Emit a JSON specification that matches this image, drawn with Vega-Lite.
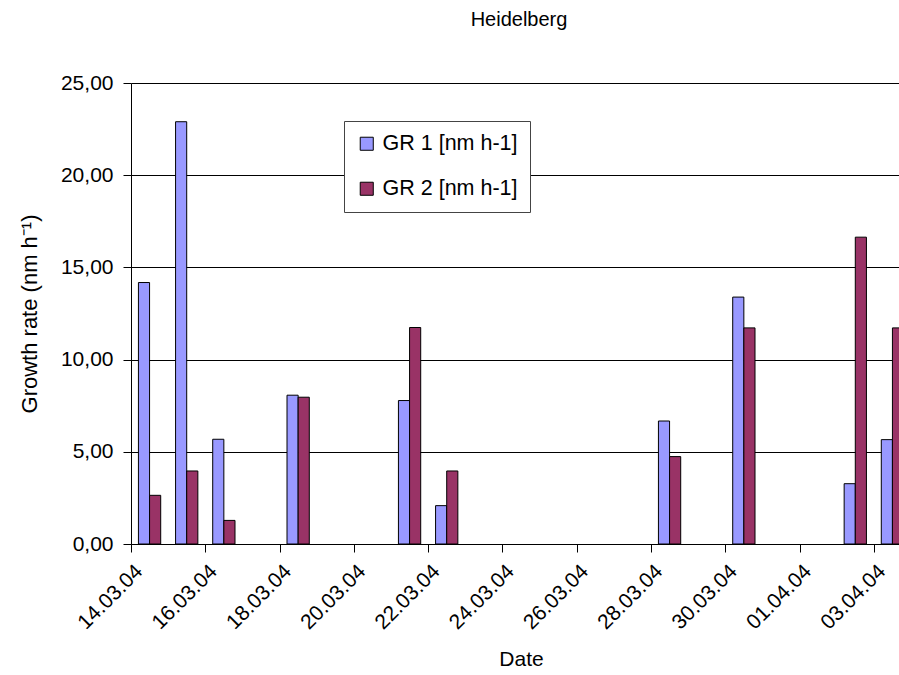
{
  "$schema": "https://vega.github.io/schema/vega-lite/v6.json",
  "autosize": {"type": "none"},
  "padding": {"left": 131, "top": 83, "right": 0, "bottom": 131},
  "width": 780,
  "height": 461,
  "background": "white",
  "title": {"text": "Heidelberg", "anchor": "middle", "frame": "group", "fontSize": 20, "font": "Liberation Sans", "fontWeight": "normal", "color": "black", "baseline": "alphabetic", "offset": 26, "dx": -2},
  "config": {
    "view": {"stroke": null},
    "font": "Liberation Sans",
    "axis": {"labelFont": "Liberation Sans", "titleFont": "Liberation Sans", "labelColor": "black", "titleColor": "black", "titleFontWeight": "normal", "labelFontSize": 21, "titleFontSize": 21, "domainColor": "black", "tickColor": "black", "tickSize": 8}
  },
  "data": {"values": [
    {"date": "14.03.04", "series": "GR 1 [nm h-1]", "rate": 14.18},
    {"date": "14.03.04", "series": "GR 2 [nm h-1]", "rate": 2.64},
    {"date": "15.03.04", "series": "GR 1 [nm h-1]", "rate": 22.9},
    {"date": "15.03.04", "series": "GR 2 [nm h-1]", "rate": 3.96},
    {"date": "16.03.04", "series": "GR 1 [nm h-1]", "rate": 5.68},
    {"date": "16.03.04", "series": "GR 2 [nm h-1]", "rate": 1.28},
    {"date": "18.03.04", "series": "GR 1 [nm h-1]", "rate": 8.07},
    {"date": "18.03.04", "series": "GR 2 [nm h-1]", "rate": 7.96},
    {"date": "21.03.04", "series": "GR 1 [nm h-1]", "rate": 7.78},
    {"date": "21.03.04", "series": "GR 2 [nm h-1]", "rate": 11.74},
    {"date": "22.03.04", "series": "GR 1 [nm h-1]", "rate": 2.08},
    {"date": "22.03.04", "series": "GR 2 [nm h-1]", "rate": 3.96},
    {"date": "28.03.04", "series": "GR 1 [nm h-1]", "rate": 6.67},
    {"date": "28.03.04", "series": "GR 2 [nm h-1]", "rate": 4.74},
    {"date": "30.03.04", "series": "GR 1 [nm h-1]", "rate": 13.39},
    {"date": "30.03.04", "series": "GR 2 [nm h-1]", "rate": 11.72},
    {"date": "02.04.04", "series": "GR 1 [nm h-1]", "rate": 3.27},
    {"date": "02.04.04", "series": "GR 2 [nm h-1]", "rate": 16.64},
    {"date": "03.04.04", "series": "GR 1 [nm h-1]", "rate": 5.66},
    {"date": "03.04.04", "series": "GR 2 [nm h-1]", "rate": 11.72}
  ]},
  "mark": {"type": "bar", "stroke": "black", "strokeWidth": 1},
  "encoding": {
    "x": {
      "field": "date", "type": "ordinal",
      "scale": {
        "domain": ["14.03.04","15.03.04","16.03.04","17.03.04","18.03.04","19.03.04","20.03.04","21.03.04","22.03.04","23.03.04","24.03.04","25.03.04","26.03.04","27.03.04","28.03.04","29.03.04","30.03.04","31.03.04","01.04.04","02.04.04","03.04.04"],
        "paddingInner": 0.4, "paddingOuter": 0.2
      },
      "axis": {
        "title": "Date", "titlePadding": 16,
        "values": ["14.03.04","16.03.04","18.03.04","20.03.04","22.03.04","24.03.04","26.03.04","28.03.04","30.03.04","01.04.04","03.04.04"],
        "bandPosition": 0, "tickOffset": -7.43,
        "labelAngle": -45, "labelAlign": "right", "labelBaseline": "middle", "labelOffset": -3, "labelPadding": 16,
        "grid": false
      }
    },
    "xOffset": {"field": "series", "type": "nominal", "scale": {"paddingInner": 0, "paddingOuter": 0}},
    "y": {
      "field": "rate", "type": "quantitative",
      "scale": {"domain": [0, 25], "nice": false},
      "axis": {
        "title": "Growth rate (nm h⁻¹)", "titlePadding": 19, "titleFontSize": 22,
        "values": [0, 5, 10, 15, 20, 25],
        "labelExpr": "replace(format(datum.value, '.2f'), '.', ',')",
        "labelPadding": 10,
        "grid": true, "gridColor": "black", "gridOpacity": 1, "gridWidth": 1
      }
    },
    "color": {
      "field": "series", "type": "nominal",
      "scale": {"domain": ["GR 1 [nm h-1]", "GR 2 [nm h-1]"], "range": ["#9999FF", "#993366"]},
      "legend": {
        "title": null, "orient": "none", "legendX": 213, "legendY": 38,
        "symbolType": "square", "symbolSize": 170, "symbolStrokeColor": "black", "symbolStrokeWidth": 1, "symbolOpacity": 1,
        "labelFontSize": 21.5, "labelFont": "Liberation Sans", "labelColor": "black", "labelOffset": 5,
        "rowPadding": 22, "padding": 12,
        "strokeColor": "#444444", "fillColor": "white"
      }
    }
  }
}
